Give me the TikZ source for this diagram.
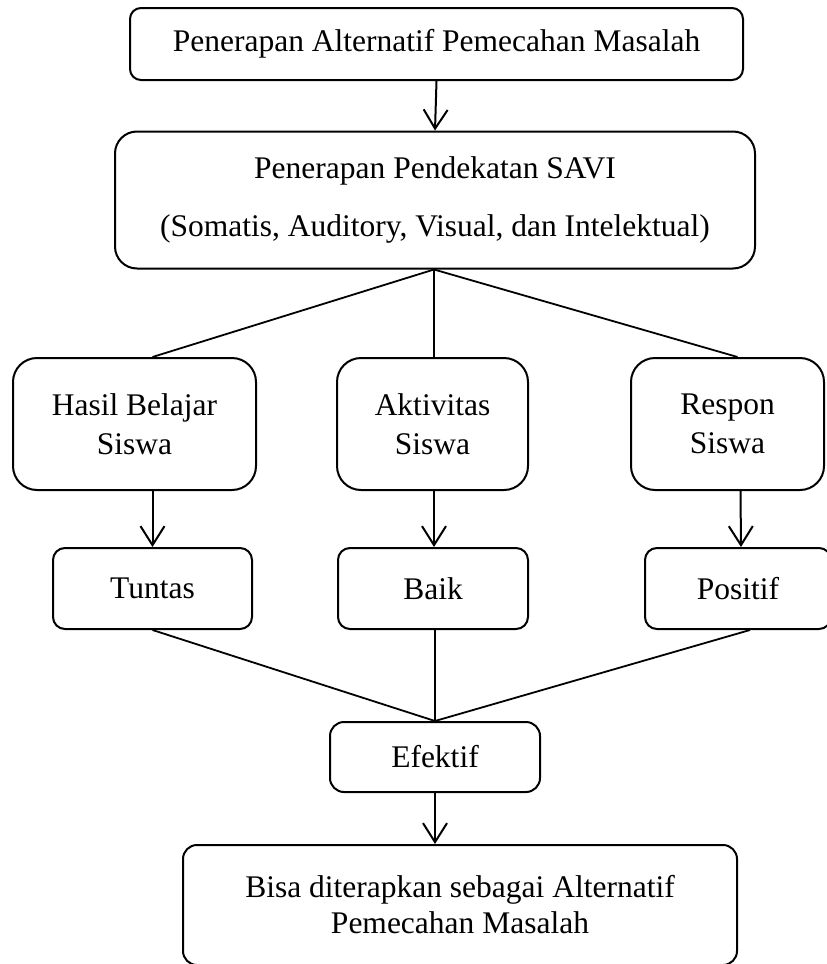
\documentclass[tikz,border=0pt]{standalone}
\usepackage{fontspec}
\setmainfont{Liberation Serif}
\usetikzlibrary{arrows.meta,calc}
\begin{document}
\begin{tikzpicture}[x=1pt,y=-1pt,
  box/.style={draw,line width=2pt,rounded corners=#1,align=center,inner sep=0pt,
    font=\fontsize{31.5}{39}\selectfont},
  box/.default=14pt,
  conn/.style={line width=1.8pt},
  arr/.style={line width=2pt,-{Straight Barb[length=19pt,width=24pt,line width=2pt]}}]
\useasboundingbox (0,0) rectangle (827,964);
\clip (0,0) rectangle (827,964);
\node[box=11pt,minimum width=613pt,minimum height=72pt] (b1) at (436.5,44) {Penerapan Alternatif Pemecahan Masalah};
\node[box=22pt,minimum width=640pt,minimum height=137pt,font=\fontsize{31.5}{58}\selectfont] (b2) at (435,200) {Penerapan Pendekatan SAVI\\(Somatis, Auditory, Visual, dan Intelektual)};
\node[box=24pt,minimum width=243pt,minimum height=132pt] (hasil) at (134.5,424) {Hasil Belajar\\Siswa};
\node[box=24pt,minimum width=191pt,minimum height=132pt] (akt) at (432.5,424) {Aktivitas\\Siswa};
\node[box=24pt,minimum width=193pt,minimum height=132pt] (resp) at (727.5,424) {Respon\\Siswa};
\node[box=12pt,minimum width=199pt,minimum height=81pt] (tuntas) at (152.5,588.5) {Tuntas};
\node[box=12pt,minimum width=190pt,minimum height=81pt] (baik) at (433,588.5) {Baik};
\node[box=12pt,minimum width=186pt,minimum height=81pt] (pos) at (738,588.5) {Positif};
\node[box=14pt,minimum width=210pt,minimum height=70pt] (ef) at (435,757) {Efektif};
\node[box=14pt,minimum width=554pt,minimum height=120pt,font=\fontsize{31.5}{36}\selectfont] (bisa) at (460,905) {Bisa diterapkan sebagai Alternatif\\Pemecahan Masalah};
\draw[arr] (b1.south) -- (b2.north);
\coordinate (b2s) at ($(b2.south)+(-1,0)$);
\draw[conn] (b2s) -- (hasil.north -| tuntas.north);
\draw[conn] (b2s) -- (akt.north -| b2s);
\draw[conn] (b2s) -- ($(resp.north)+(10,0)$);
\draw[arr] (hasil.south -| tuntas.north) -- (tuntas.north);
\draw[arr] (akt.south -| b2s) -- (baik.north -| b2s);
\draw[arr] ($(resp.south)+(13,0)$) -- ($(pos.north)+(3,0)$);
\coordinate (efn) at (ef.north);
\draw[conn] (tuntas.south) -- (efn);
\draw[conn] (baik.south -| efn) -- (efn);
\draw[conn] ($(pos.south)+(12,0)$) -- (efn);
\draw[arr] (ef.south) -- (bisa.north -| ef.south);
\end{tikzpicture}
\end{document}
